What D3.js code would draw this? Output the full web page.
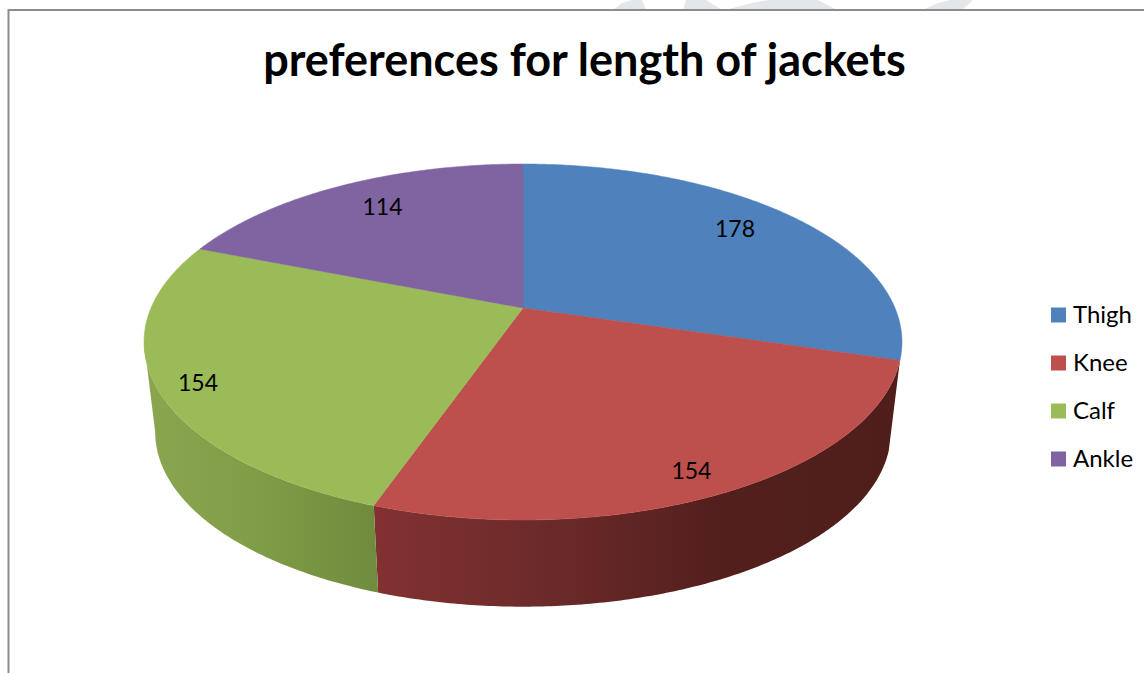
<!DOCTYPE html>
<html>
<head>
<meta charset="utf-8">
<script src="https://cdnjs.cloudflare.com/ajax/libs/d3/7.8.5/d3.min.js"></script>
<style>
  html, body { margin: 0; padding: 0; background: #fff; }
  svg { display: block; }
  text { font-family: "Lato", "Open Sans", sans-serif; fill: #000; }
</style>
</head>
<body>
<svg id="chart" width="1144" height="673"></svg>
<script>
const title = "preferences for length of jackets";
const categories = ["Thigh", "Knee", "Calf", "Ankle"];
const values = [178, 154, 154, 114];
const topColors = ["#4f81bd", "#bd4f4c", "#9bbb59", "#8064a2"];

// side wall colours, left to right across each visible slice
const sideStops = [
  null,
  ["#833131", "#6b2a2a", "#521f1c", "#4f1e1b"],
  ["#8ba64f", "#7f9c46", "#6f8b3e"],
  null
];

const width = 1144, height = 673;
const svg = d3.select("#chart");

// the pie is a tilted disc, so unit-disc points go through a perspective map
const persp = 0.191;
const topFace = {cx: 523, y0: 308, a: 372, b: 171.5};
const bottomFace = {cx: 523, y0: 399, a: 361, b: 168};

function project(face, angle, r) {
  const X = r * Math.sin(angle), Y = -r * Math.cos(angle);
  const w = 1 - persp * Y;
  return [face.cx + face.a * X / w, face.y0 + face.b * Y / w];
}

function rimPoints(face, a0, a1) {
  const n = Math.max(2, Math.ceil((a1 - a0) / 0.01));
  return d3.range(n + 1).map(i => project(face, a0 + (a1 - a0) * i / n, 1));
}

const line = d3.line();

// scraps of the page watermark showing above the chart
const watermark = [
  [[613, 10], [622, 3], [632, 0], [642, 0], [646, 10]],
  [[683, 10], [686, 0], [706, 0], [722, 10]],
  [[725, 10], [752, 3], [768, 0], [818, 0], [837, 10]],
  [[923, 10], [938, 3], [950, 0], [973, 0], [962, 10]]
];
svg.append("g").selectAll("path")
  .data(watermark)
  .join("path")
  .attr("d", d => line(d) + "Z")
  .attr("fill", "#e3e7ec");

// chart frame, runs off the right and bottom of the picture
svg.append("rect")
  .attr("x", 8.5).attr("y", 10)
  .attr("width", width + 20).attr("height", height + 20)
  .attr("fill", "#fff")
  .attr("stroke", "#8c8c8c")
  .attr("stroke-width", 2);

// title
svg.append("text")
  .attr("x", 584.5).attr("y", 76)
  .attr("text-anchor", "middle")
  .attr("font-size", 45)
  .attr("font-weight", 700)
  .text(title);

const arcs = d3.pie().sort(null)(values);
const g = svg.append("g");
const defs = svg.append("defs");

// side walls first, cut where the wall meets the outline of the disc
const silhouette = Math.asin(persp);
arcs.forEach((d, i) => {
  const a0 = Math.max(d.startAngle, Math.PI / 2 + silhouette);
  const a1 = Math.min(d.endAngle, Math.PI * 3 / 2 - silhouette);
  if (a1 <= a0 || !sideStops[i]) return;
  const upper = rimPoints(topFace, a0, a1);
  const lower = rimPoints(bottomFace, a0, a1);
  const xs = upper.concat(lower).map(p => p[0]);
  const id = "side" + i;
  const grad = defs.append("linearGradient")
    .attr("id", id)
    .attr("gradientUnits", "userSpaceOnUse")
    .attr("x1", d3.min(xs)).attr("x2", d3.max(xs))
    .attr("y1", 0).attr("y2", 0);
  sideStops[i].forEach((c, j) => {
    grad.append("stop")
      .attr("offset", j / (sideStops[i].length - 1))
      .attr("stop-color", c);
  });
  g.append("path")
    .attr("d", line(upper.concat(lower.reverse())) + "Z")
    .attr("fill", `url(#${id})`);
});

// top face
arcs.forEach((d, i) => {
  const pts = [project(topFace, 0, 0)].concat(rimPoints(topFace, d.startAngle, d.endAngle));
  g.append("path")
    .attr("d", line(pts) + "Z")
    .attr("fill", topColors[i])
    .attr("stroke", topColors[i])
    .attr("stroke-width", 0.5);
});

// value labels, nudged off the mid-angle the way best-fit placement did
const labelRadius = 0.8;
const labelNudge = [[-7, -5], [12, 20], [-36, 13], [8, -1]];
arcs.forEach((d, i) => {
  const p = project(topFace, (d.startAngle + d.endAngle) / 2, labelRadius);
  g.append("text")
    .attr("x", p[0] + labelNudge[i][0])
    .attr("y", p[1] + labelNudge[i][1])
    .attr("text-anchor", "middle")
    .attr("dominant-baseline", "central")
    .attr("font-size", 23)
    .text(values[i]);
});

// legend
const legendY = d3.scalePoint().domain(categories).range([315, 459]);
const legend = svg.append("g");
categories.forEach((c, i) => {
  legend.append("rect")
    .attr("x", 1051).attr("y", legendY(c) - 7.5)
    .attr("width", 15).attr("height", 15)
    .attr("fill", topColors[i]);
  legend.append("text")
    .attr("x", 1073).attr("y", legendY(c) - 2)
    .attr("dominant-baseline", "central")
    .attr("font-size", 24)
    .text(c);
});
</script>
</body>
</html>
